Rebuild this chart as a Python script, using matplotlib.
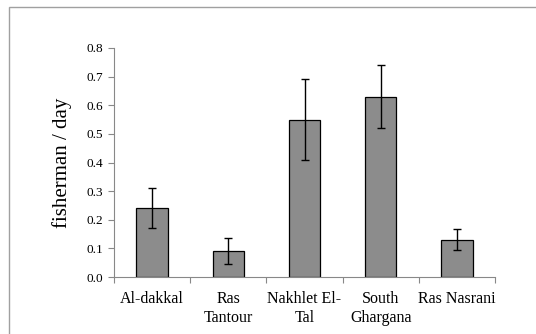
import matplotlib
matplotlib.use("Agg")
import matplotlib.pyplot as plt
from matplotlib.patches import Rectangle

categories = ["Al-dakkal", "Ras\nTantour", "Nakhlet El-\nTal", "South\nGhargana", "Ras Nasrani"]
values = [0.24, 0.09, 0.55, 0.63, 0.13]
errors = [0.07, 0.045, 0.14, 0.11, 0.036]
yticks = [0.0, 0.1, 0.2, 0.3, 0.4, 0.5, 0.6, 0.7, 0.8]

plt.rcParams['font.family'] = ['Liberation Serif', 'DejaVu Serif']

fig = plt.figure(figsize=(5.36, 3.34), dpi=100)
fig.patches.append(Rectangle((9/536, -0.1), 1.2, 1 - 7/334 + 0.1, transform=fig.transFigure,
                             fill=False, edgecolor='#a0a0a0', linewidth=1.0))
ax = fig.add_axes([114/536, 1 - 277/334, (495 - 114)/536, (277 - 48)/334])

x = list(range(len(categories)))
ax.bar(x, values, width=0.41, color='#8c8c8c', edgecolor='black', linewidth=0.9,
       yerr=errors, error_kw=dict(ecolor='black', elinewidth=1.0, capsize=2.7, capthick=1.0))

ax.set_xlim(-0.5, len(categories) - 0.5)
ax.set_ylim(0, 0.8)
ax.set_yticks(yticks)
ax.set_yticklabels([f"{t:.1f}" for t in yticks], fontsize=9.5)
ax.set_xticks(x)
ax.set_xticklabels(categories, fontsize=11.5, linespacing=1.3)
ax.tick_params(axis='x', length=0, pad=10)
ax.set_xticks([i - 0.5 for i in range(len(categories) + 1)], minor=True)
ax.tick_params(axis='x', which='minor', length=4, color='#888888', width=0.8)
ax.tick_params(axis='y', length=4, color='#888888', width=0.8, pad=4)
for s in ['top', 'right']:
    ax.spines[s].set_visible(False)
for s in ['left', 'bottom']:
    ax.spines[s].set_color('#888888')
    ax.spines[s].set_linewidth(0.8)
ax.set_ylabel("fisherman / day", fontsize=15, labelpad=10)

fig.savefig("out.png", dpi=100)
